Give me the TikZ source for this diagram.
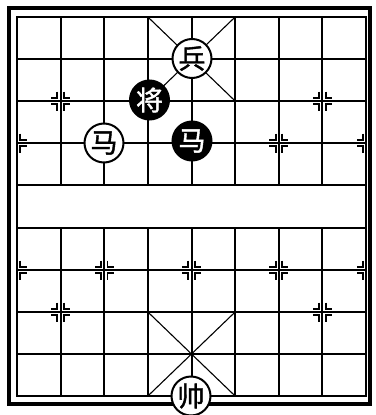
\documentclass[tikz,border=0pt]{standalone}
\usepackage{fontspec}
\newfontfamily\cjk{Noto Sans CJK SC}[FakeBold=1.5]
\newcommand{\xqq}[4]{\draw[mk] ({#1+(#3)*3.2},{#2+(#4)*9.5}) -- ({#1+(#3)*3.2},{#2+(#4)*3.2}) -- ({#1+(#3)*9.5},{#2+(#4)*3.2});}
\newcommand{\xqR}[2]{\xqq{#1}{#2}{1}{1}\xqq{#1}{#2}{1}{-1}}
\newcommand{\xqL}[2]{\xqq{#1}{#2}{-1}{1}\xqq{#1}{#2}{-1}{-1}}
\newcommand{\xqF}[2]{\xqR{#1}{#2}\xqL{#1}{#2}}
\begin{document}
\begin{tikzpicture}[x=1pt,y=-1pt,
  grid/.style={line width=2pt,line cap=rect},
  mk/.style={line width=1.9pt},
  diag/.style={line width=1.1pt},
  piece/.style={circle,minimum size=39pt,inner sep=0pt,line width=2pt,
    font=\cjk\fontsize{27}{27}\selectfont},
  wpiece/.style={piece,draw=black,fill=white,text=black},
  bpiece/.style={piece,draw=black,fill=black,text=white}]
\useasboundingbox (0,0) rectangle (375,415);
\fill[white] (0,0) rectangle (375,415);
% outer border
\draw[line width=3.2pt] (9,8) rectangle (370,404);
% horizontal lines
\foreach \y in {17,59,101,143,185,228,270,312,354,396}
  \draw[grid] (17,\y) -- (366,\y);
% vertical lines
\foreach \i in {1,...,7}{
  \draw[grid] ({17+\i*43.625},17) -- ({17+\i*43.625},185);
  \draw[grid] ({17+\i*43.625},228) -- ({17+\i*43.625},396);
}
\draw[grid] (17,17) -- (17,396);
\draw[grid] (366,17) -- (366,396);
% palace diagonals
\draw[diag] ({17+3*43.625},17) -- ({17+5*43.625},101);
\draw[diag] ({17+5*43.625},17) -- ({17+3*43.625},101);
\draw[diag] ({17+3*43.625},312) -- ({17+5*43.625},396);
\draw[diag] ({17+5*43.625},312) -- ({17+3*43.625},396);
% position marks
\xqF{60.625}{101}
\xqF{322.375}{101}
\xqR{17}{143}
\xqF{278.75}{143}
\xqL{366}{143}
\xqR{17}{270}
\xqF{104.25}{270}
\xqF{191.5}{270}
\xqF{278.75}{270}
\xqL{366}{270}
\xqF{60.625}{312}
\xqF{322.375}{312}
% pieces
\node[wpiece] (bing) at (192,58.5) {兵};
\node[bpiece] (jiang) at (149.5,100) {将};
\node[wpiece] (ma1) at (104,143) {马};
\node[bpiece] (ma2) at (192,141) {马};
\node[wpiece] (shuai) at (191,396) {帅};
\end{tikzpicture}
\end{document}
